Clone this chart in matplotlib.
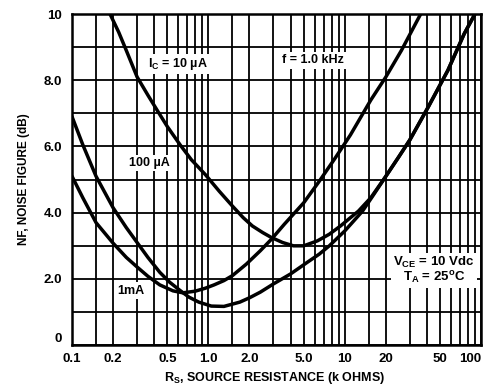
import matplotlib

matplotlib.use("Agg")
import matplotlib.pyplot as plt
from matplotlib.ticker import FixedLocator, NullFormatter, NullLocator

# Source resistance (k ohms) / noise figure (dB)
rs_10u = [0.19, 0.22, 0.25, 0.3, 0.36, 0.42, 0.5, 0.62, 0.75, 0.95, 1.2, 1.5, 1.8, 2.1, 2.5,
          2.9, 3.5, 4.2, 5.0, 6.3, 7.7, 9.3, 11, 12.6, 15.5, 20, 25, 30, 41, 57, 75, 90]
nf_10u = [10.0, 9.45, 8.9, 8.1, 7.55, 7.1, 6.6, 6.05, 5.6, 5.15, 4.65, 4.2, 3.85, 3.6, 3.4,
          3.25, 3.1, 3.0, 3.0, 3.15, 3.35, 3.6, 3.85, 4.05, 4.45, 5.1, 5.7, 6.2, 7.2, 8.3, 9.4, 10.0]

rs_100u = [0.1, 0.12, 0.15, 0.2, 0.25, 0.3, 0.36, 0.44, 0.52, 0.62, 0.72, 0.85, 1.05, 1.3, 1.7,
           2.0, 2.4, 3.0, 4.0, 5.3, 6.5, 7.7, 10, 13.5, 16, 20, 25, 30, 41, 57, 75, 90]
nf_100u = [6.9, 6.05, 5.1, 4.15, 3.55, 3.1, 2.65, 2.2, 1.9, 1.65, 1.45, 1.3, 1.18, 1.17, 1.3,
           1.43, 1.6, 1.85, 2.15, 2.5, 2.75, 3.0, 3.45, 4.05, 4.5, 5.1, 5.7, 6.2, 7.2, 8.3, 9.4, 10.0]

rs_1m = [0.1, 0.12, 0.15, 0.2, 0.25, 0.3, 0.36, 0.44, 0.55, 0.65, 0.8, 0.95, 1.1, 1.3, 1.5,
         1.9, 2.4, 2.9, 3.6, 5.0, 6.5, 8.5, 11, 15.5, 20, 26, 36]
nf_1m = [5.1, 4.45, 3.7, 3.08, 2.65, 2.36, 2.08, 1.82, 1.64, 1.58, 1.63, 1.72, 1.82, 1.95, 2.1,
         2.45, 2.85, 3.2, 3.65, 4.3, 4.95, 5.65, 6.35, 7.4, 8.1, 8.9, 10.0]

x_ticks = [0.1, 0.2, 0.5, 1.0, 2.0, 5.0, 10, 20, 50, 100]
x_tick_labels = ["0.1", "0.2", "0.5", "1.0", "2.0", "5.0", "10", "20", "50", "100"]
y_ticks = [0, 2, 4, 6, 8, 10]
y_tick_labels = ["0", "2.0", "4.0", "6.0", "8.0", "10"]

# vertical grid: 1, 1.5, 2..9 per decade
x_grid = [m * d for d in (0.1, 1, 10) for m in (1, 1.5, 2, 3, 4, 5, 6, 7, 8, 9)] + [100]
y_grid = list(range(0, 11))

FAMILY = ["Liberation Sans", "DejaVu Sans"]
plt.rcParams["font.family"] = FAMILY
plt.rcParams["font.weight"] = "bold"
plt.rcParams["mathtext.fontset"] = "custom"
plt.rcParams["mathtext.rm"] = "Liberation Sans:bold"
plt.rcParams["mathtext.default"] = "rm"

fig = plt.figure(figsize=(4.9, 3.9), dpi=100)
ax = fig.add_axes([0.147, 0.115, 0.835, 0.849])
ax.set_xscale("log")
ax.set_xlim(0.1, 100)
ax.set_ylim(0, 10)

for gx in x_grid:
    ax.axvline(gx, color="black", lw=1.3, zorder=1)
for gy in y_grid:
    ax.axhline(gy, color="black", lw=1.3, zorder=1)

for rs, nf in ((rs_10u, nf_10u), (rs_100u, nf_100u), (rs_1m, nf_1m)):
    ax.plot(rs, nf, color="black", lw=2.5, solid_capstyle="round", solid_joinstyle="round", zorder=3)

ax.xaxis.set_major_locator(FixedLocator(x_ticks))
ax.xaxis.set_minor_locator(NullLocator())
ax.xaxis.set_minor_formatter(NullFormatter())
ax.set_xticklabels(x_tick_labels)
ax.set_yticks(y_ticks)
ax.set_yticklabels(y_tick_labels)
ax.tick_params(axis="x", length=0, labelsize=9.5, pad=6)
ax.tick_params(axis="y", length=0, labelsize=9.5, pad=7)
for lab in ax.get_xticklabels() + ax.get_yticklabels():
    lab.set_fontweight("bold")
ax.get_xticklabels()[-1].set_horizontalalignment("right")
ax.get_yticklabels()[0].set_verticalalignment("bottom")
for sp in ax.spines.values():
    sp.set_linewidth(1.8)

ax.set_xlabel("R$_S$, SOURCE RESISTANCE (k OHMS)", fontsize=9, fontweight="bold")
ax.xaxis.set_label_coords(0.495, -0.075)
ax.set_ylabel("NF, NOISE FIGURE (dB)", fontsize=8.5, fontweight="bold")
ax.yaxis.set_label_coords(-0.103, 0.5)

box = dict(facecolor="white", edgecolor="none", pad=1.5)
ax.text(0.6, 8.5, "I$_C$ = 10 µA", fontsize=9, ha="center", va="center", bbox=box, zorder=4)
ax.text(5.8, 8.6, "f = 1.0 kHz", fontsize=9, ha="center", va="center", bbox=box, zorder=4)
ax.text(0.37, 5.5, "100 µA", fontsize=9, ha="center", va="center", bbox=box, zorder=4)
ax.text(0.27, 1.65, "1mA", fontsize=9, ha="center", va="center", bbox=box, zorder=4)
ax.text(45, 2.25, "V$_{CE}$ = 10 Vdc\nT$_A$ = 25$^o$C", fontsize=9.5, ha="center", va="center",
        linespacing=1.0, bbox=box, zorder=4)

fig.savefig("out.png", dpi=100)
